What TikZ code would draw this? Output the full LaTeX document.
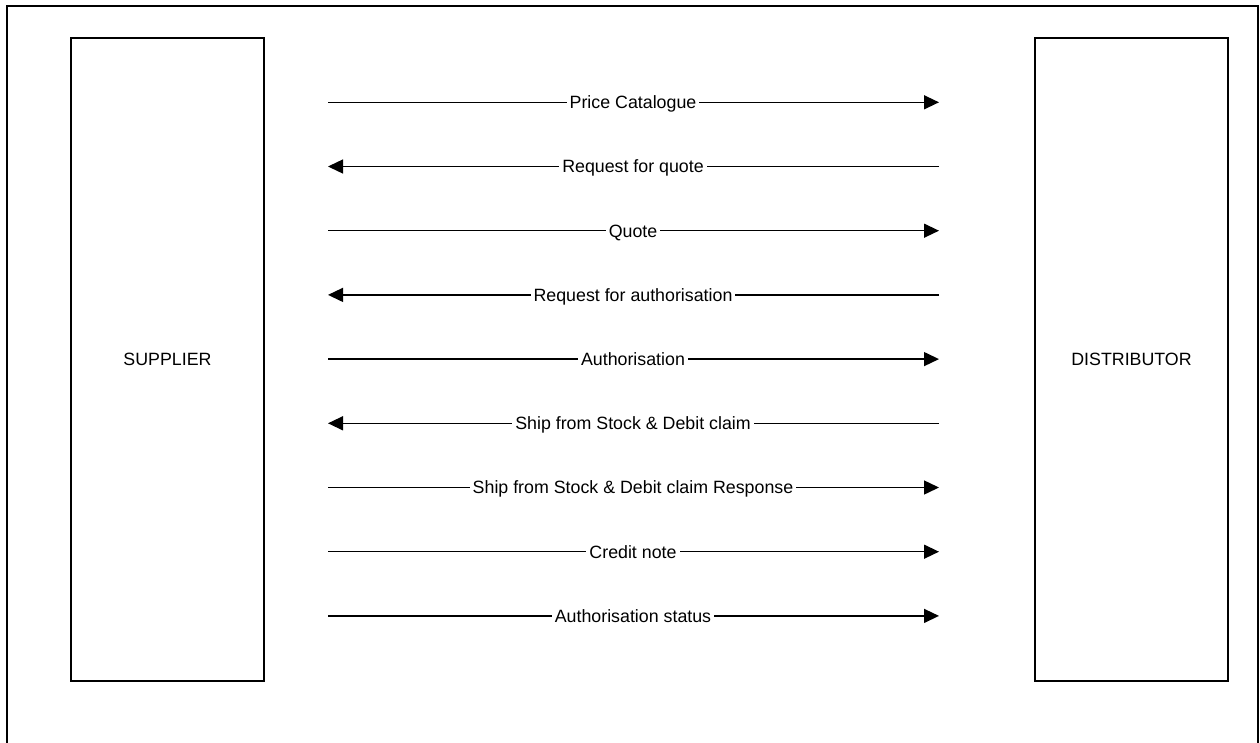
\documentclass[tikz,border=0pt]{standalone}
\usepackage{fontspec}
\setmainfont{Liberation Sans}
\usetikzlibrary{arrows.meta}
\begin{document}
\begin{tikzpicture}[x=1pt,y=-1pt,
  party/.style={draw,line width=1.5pt,minimum width=193pt,minimum height=643pt,inner sep=0pt,font=\fontsize{17.8}{20}\selectfont},
  msg/.style={line width=1.4pt,-{Triangle[length=15pt,width=14pt]}},
  lbl/.style={fill=white,inner xsep=3pt,inner ysep=1pt,text height=12.7pt,text depth=0pt,font=\fontsize{17.8}{20}\selectfont}]
\useasboundingbox (0,0) rectangle (1260,742);
\draw[line width=2.6pt] (7,745) -- (7,6) -- (1258,6) -- (1258,745);
\node[party] (sup) at (167.5,359.5) {SUPPLIER};
\node[party] (dist) at (1131.5,359.5) {DISTRIBUTOR};
\foreach \i/\txt/\dir in {
  1/Price Catalogue/r,
  2/Request for quote/l,
  3/Quote/r,
  4/Request for authorisation/l,
  5/Authorisation/r,
  6/Ship from Stock \& Debit claim/l,
  7/Ship from Stock \& Debit claim Response/r,
  8/Credit note/r,
  9/Authorisation status/r}{
  \pgfmathsetmacro{\yy}{102.3+64.2*(\i-1)}
  \coordinate (L\i) at (328,\yy);
  \coordinate (R\i) at (939,\yy);
  \if\dir r
    \draw[msg] (L\i) -- (R\i);
  \else
    \draw[msg] (R\i) -- (L\i);
  \fi
  \node[lbl] (m\i) at (633,\yy) {\txt};
}
\end{tikzpicture}
\end{document}
